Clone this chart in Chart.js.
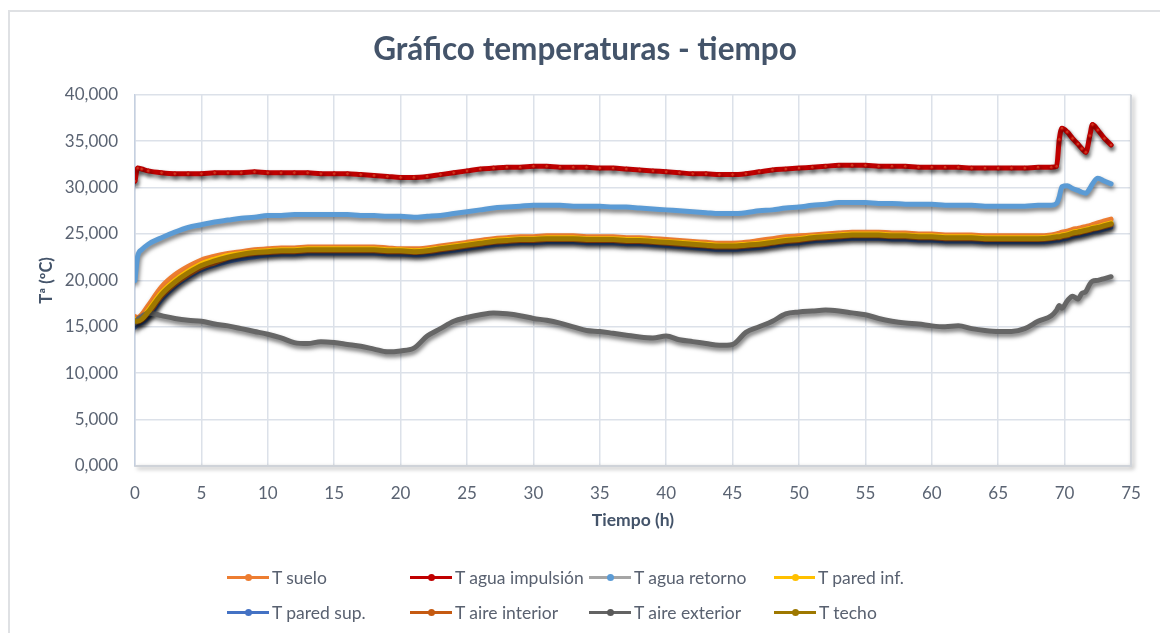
<!DOCTYPE html>
<html>
<head>
<meta charset="utf-8">
<title>Gráfico temperaturas - tiempo</title>
<script src="https://cdn.jsdelivr.net/npm/chart.js@4.4.1/dist/chart.umd.min.js"></script>
<style>
  html, body { margin: 0; padding: 0; background: #fff; }
  #marco { position: absolute; left: 8px; top: 10px; width: 1160px; height: 640px; border-left: 2px solid #dfe1e4; border-top: 2px solid #dfe1e4; }
  #grafico { position: absolute; left: 0; top: 0; }
  #leyenda { position: absolute; left: 227px; top: 560px; display: grid; grid-template-columns: 183px 179px 185px 130px; grid-auto-rows: 35px; font: 17.5px Lato, "Open Sans", sans-serif; color: #596170; }
  .item { display: flex; align-items: center; white-space: nowrap; }
  .marca { position: relative; width: 42px; height: 2.5px; margin-right: 3px; }
  .marca span { position: absolute; left: 17.5px; top: -2.5px; width: 7px; height: 7px; border-radius: 50%; }
</style>
</head>
<body>
<div id="marco"></div>
<canvas id="grafico" width="1160" height="633"></canvas>
<div id="leyenda"></div>
<script>
// tiempo (h) de cada lectura
const horas = [0, 0.2, 0.5,
  1, 2, 3, 4, 5, 6, 7, 8, 9, 10,
  11, 12, 13, 14, 15, 16, 17, 18, 19, 20,
  21, 22, 23, 24, 25, 26, 27, 28, 29, 30,
  31, 32, 33, 34, 35, 36, 37, 38, 39, 40,
  41, 42, 43, 44, 45, 46, 47, 48, 49, 50,
  51, 52, 53, 54, 55, 56, 57, 58, 59, 60,
  61, 62, 63, 64, 65, 66, 67, 68, 69,
  69.4, 69.6, 69.8, 70.2, 70.6, 71, 71.3, 71.6, 71.9, 72.1, 72.5, 73, 73.5];

const tSuelo = [16.1, 16.0, 16.3,
  17.3, 19.3, 20.6, 21.5, 22.2, 22.6, 22.9, 23.1, 23.3, 23.4,
  23.5, 23.5, 23.6, 23.6, 23.6, 23.6, 23.6, 23.6, 23.5, 23.4,
  23.4, 23.5, 23.7, 23.9, 24.1, 24.3, 24.5, 24.6, 24.7, 24.7,
  24.8, 24.8, 24.8, 24.7, 24.7, 24.7, 24.6, 24.6, 24.5, 24.4,
  24.3, 24.2, 24.1, 24.0, 24.0, 24.1, 24.3, 24.5, 24.7, 24.8,
  24.9, 25.0, 25.1, 25.2, 25.2, 25.2, 25.1, 25.1, 25.0, 25.0,
  24.9, 24.9, 24.9, 24.8, 24.8, 24.8, 24.8, 24.8, 24.9,
  25.0, 25.1, 25.2, 25.3, 25.5, 25.6, 25.7, 25.8, 25.9, 26.0, 26.2, 26.4, 26.6];

const tAguaImpulsion = [30.7, 32.1, 32.0,
  31.8, 31.6, 31.5, 31.5, 31.5, 31.6, 31.6, 31.6, 31.7, 31.6,
  31.6, 31.6, 31.6, 31.5, 31.5, 31.5, 31.4, 31.3, 31.2, 31.1,
  31.1, 31.2, 31.4, 31.6, 31.8, 32.0, 32.1, 32.2, 32.2, 32.3,
  32.3, 32.2, 32.2, 32.2, 32.1, 32.1, 32.0, 31.9, 31.8, 31.7,
  31.6, 31.5, 31.5, 31.4, 31.4, 31.5, 31.7, 31.9, 32.0, 32.1,
  32.2, 32.3, 32.4, 32.4, 32.4, 32.3, 32.3, 32.3, 32.2, 32.2,
  32.2, 32.2, 32.1, 32.1, 32.1, 32.1, 32.1, 32.2, 32.2,
  32.3, 35.2, 36.4, 36.0, 35.3, 34.7, 34.2, 33.8, 35.6, 36.8, 36.2, 35.3, 34.6];

const tAguaRetorno = [20.0, 22.6, 23.3,
  23.9, 24.6, 25.2, 25.7, 26.0, 26.3, 26.5, 26.7, 26.8, 27.0,
  27.0, 27.1, 27.1, 27.1, 27.1, 27.1, 27.0, 27.0, 26.9, 26.9,
  26.8, 26.9, 27.0, 27.2, 27.4, 27.6, 27.8, 27.9, 28.0, 28.1,
  28.1, 28.1, 28.0, 28.0, 28.0, 27.9, 27.9, 27.8, 27.7, 27.6,
  27.5, 27.4, 27.3, 27.2, 27.2, 27.3, 27.5, 27.6, 27.8, 27.9,
  28.1, 28.2, 28.4, 28.4, 28.4, 28.3, 28.3, 28.2, 28.2, 28.2,
  28.1, 28.1, 28.1, 28.0, 28.0, 28.0, 28.0, 28.1, 28.1,
  28.3, 29.0, 30.1, 30.2, 29.9, 29.7, 29.5, 29.4, 29.9, 30.4, 31.0, 30.7, 30.4];

const tParedInf = [15.8, 15.7, 15.9,
  16.8, 18.7, 20.0, 21.0, 21.8, 22.3, 22.7, 22.9, 23.1, 23.2,
  23.3, 23.3, 23.4, 23.4, 23.4, 23.4, 23.4, 23.4, 23.3, 23.3,
  23.2, 23.3, 23.5, 23.7, 23.9, 24.1, 24.3, 24.4, 24.5, 24.5,
  24.6, 24.6, 24.6, 24.5, 24.5, 24.5, 24.4, 24.4, 24.3, 24.2,
  24.1, 24.0, 23.9, 23.8, 23.8, 23.9, 24.0, 24.2, 24.4, 24.5,
  24.7, 24.8, 24.9, 25.0, 25.0, 25.0, 24.9, 24.9, 24.8, 24.8,
  24.7, 24.7, 24.7, 24.6, 24.6, 24.6, 24.6, 24.6, 24.7,
  24.8, 24.8, 24.9, 25.0, 25.2, 25.3, 25.4, 25.5, 25.6, 25.7, 25.8, 26.0, 26.2];

const tParedSup = [14.9, 15.2, 15.4,
  16.0, 17.9, 19.3, 20.3, 21.1, 21.6, 22.0, 22.3, 22.5, 22.7,
  22.8, 22.8, 22.9, 22.9, 22.9, 22.9, 22.9, 22.9, 22.8, 22.8,
  22.7, 22.8, 23.0, 23.2, 23.4, 23.6, 23.8, 23.9, 24.0, 24.0,
  24.1, 24.1, 24.1, 24.0, 24.0, 24.0, 23.9, 23.9, 23.8, 23.7,
  23.6, 23.5, 23.4, 23.3, 23.3, 23.4, 23.5, 23.7, 23.9, 24.0,
  24.2, 24.3, 24.4, 24.5, 24.5, 24.5, 24.4, 24.4, 24.3, 24.3,
  24.2, 24.2, 24.2, 24.1, 24.1, 24.1, 24.1, 24.1, 24.2,
  24.3, 24.3, 24.4, 24.5, 24.7, 24.8, 24.9, 25.0, 25.1, 25.2, 25.3, 25.5, 25.7];

const tAireInterior = [15.5, 15.5, 15.7,
  16.4, 18.3, 19.6, 20.6, 21.4, 21.9, 22.4, 22.7, 22.9, 23.0,
  23.1, 23.1, 23.2, 23.2, 23.2, 23.2, 23.2, 23.2, 23.1, 23.1,
  23.0, 23.1, 23.3, 23.5, 23.7, 23.9, 24.1, 24.2, 24.3, 24.3,
  24.4, 24.4, 24.4, 24.3, 24.3, 24.3, 24.2, 24.2, 24.1, 24.0,
  23.9, 23.8, 23.7, 23.6, 23.6, 23.7, 23.8, 24.0, 24.2, 24.3,
  24.5, 24.6, 24.7, 24.8, 24.8, 24.8, 24.7, 24.7, 24.6, 24.6,
  24.5, 24.5, 24.5, 24.4, 24.4, 24.4, 24.4, 24.4, 24.5,
  24.6, 24.6, 24.7, 24.8, 25.0, 25.1, 25.2, 25.3, 25.4, 25.5, 25.6, 25.8, 26.0];

const tAireExterior = [15.4, 15.8, 16.1,
  16.5, 16.2, 15.9, 15.7, 15.6, 15.3, 15.1, 14.8, 14.5, 14.2,
  13.8, 13.3, 13.2, 13.4, 13.3, 13.1, 12.9, 12.6, 12.3, 12.4,
  12.7, 14.0, 14.8, 15.6, 16.0, 16.3, 16.5, 16.4, 16.2, 15.9,
  15.7, 15.4, 15.0, 14.6, 14.5, 14.3, 14.1, 13.9, 13.8, 14.0,
  13.6, 13.4, 13.2, 13.0, 13.1, 14.4, 15.0, 15.6, 16.4, 16.6,
  16.7, 16.8, 16.7, 16.5, 16.3, 15.9, 15.6, 15.4, 15.3, 15.1,
  15.0, 15.1, 14.8, 14.6, 14.5, 14.5, 14.8, 15.6, 16.2,
  16.8, 17.3, 17.0, 17.8, 18.3, 18.0, 18.6, 18.8, 19.6, 19.9, 20.0, 20.2, 20.4];

const tTecho = [15.6, 15.6, 15.8,
  16.6, 18.5, 19.8, 20.8, 21.6, 22.1, 22.5, 22.8, 23.0, 23.1,
  23.2, 23.2, 23.3, 23.3, 23.3, 23.3, 23.3, 23.3, 23.2, 23.2,
  23.1, 23.2, 23.4, 23.6, 23.8, 24.0, 24.2, 24.3, 24.4, 24.4,
  24.5, 24.5, 24.5, 24.4, 24.4, 24.4, 24.3, 24.3, 24.2, 24.1,
  24.0, 23.9, 23.8, 23.7, 23.7, 23.8, 23.9, 24.1, 24.3, 24.4,
  24.6, 24.7, 24.8, 24.9, 24.9, 24.9, 24.8, 24.8, 24.7, 24.7,
  24.6, 24.6, 24.6, 24.5, 24.5, 24.5, 24.5, 24.5, 24.6,
  24.7, 24.7, 24.8, 24.9, 25.1, 25.2, 25.3, 25.4, 25.5, 25.6, 25.7, 25.9, 26.1];

const nombres = ['T suelo', 'T agua impulsión', 'T agua retorno', 'T pared inf.',
                 'T pared sup.', 'T aire interior', 'T aire exterior', 'T techo'];
const valores = [tSuelo, tAguaImpulsion, tAguaRetorno, tParedInf,
                 tParedSup, tAireInterior, tAireExterior, tTecho];
const yTicks = [0, 5, 10, 15, 20, 25, 30, 35, 40];
const xTicks = [0, 5, 10, 15, 20, 25, 30, 35, 40, 45, 50, 55, 60, 65, 70, 75];

// colores: trazo en el grafico, linea y punto en la leyenda
const colorSerie = ['#ED7D31', '#C00000', '#5B9BD5', '#FFC000', '#4472C4', '#C55A11', '#666666', '#9E7800'];
const colorLinea = ['#ED7D31', '#C00000', '#A5A5A5', '#FFC000', '#4472C4', '#C55A11', '#636363', '#9E7800'];
const colorPunto = ['#ED7D31', '#C00000', '#5B9BD5', '#FFC000', '#4472C4', '#C55A11', '#595959', '#9E7800'];

const fuente = 'Lato, "Open Sans", sans-serif';
Chart.defaults.font.family = fuente;

// sombra tipo Excel bajo cada serie
const sombraSeries = {
  id: 'sombraSeries',
  beforeDatasetDraw(chart) {
    const ctx = chart.ctx;
    ctx.save();
    ctx.shadowColor = 'rgba(0,0,0,0.55)';
    ctx.shadowBlur = 4;
    ctx.shadowOffsetX = 1;
    ctx.shadowOffsetY = 3;
  },
  afterDatasetDraw(chart) {
    chart.ctx.restore();
  }
};

// borde derecho e inferior del area de trazado con sombra
const bordeArea = {
  id: 'bordeArea',
  afterLayout(chart) {
    // el titulo de Excel va centrado en todo el ancho del grafico
    if (chart.titleBlock) chart.titleBlock.right = chart.width;
  },
  beforeDatasetsDraw(chart) {
    const {ctx, chartArea: a} = chart;
    ctx.save();
    ctx.shadowColor = 'rgba(0,0,0,0.35)';
    ctx.shadowBlur = 4;
    ctx.shadowOffsetX = 2;
    ctx.shadowOffsetY = 2;
    ctx.strokeStyle = '#cfd3d9';
    ctx.lineWidth = 2;
    ctx.beginPath();
    ctx.moveTo(a.left, a.bottom);
    ctx.lineTo(a.right, a.bottom);
    ctx.lineTo(a.right, a.top);
    ctx.stroke();
    ctx.restore();
  }
};

const datasets = valores.map((serie, i) => ({
  label: nombres[i],
  data: horas.map((h, k) => ({x: h, y: serie[k]})),
  borderColor: colorSerie[i],
  backgroundColor: colorSerie[i],
  borderWidth: i === 4 ? 4 : 5,
  pointRadius: i === 1 ? 1.8 : 0,
  pointBackgroundColor: '#D63A22',
  pointBorderColor: colorSerie[i],
  pointBorderWidth: 1,
  cubicInterpolationMode: 'monotone',
  borderJoinStyle: 'round',
  borderCapStyle: 'round',
  order: valores.length - 1 - i
}));

new Chart(document.getElementById('grafico'), {
  type: 'line',
  data: { datasets: datasets },
  plugins: [sombraSeries, bordeArea],
  options: {
    responsive: false,
    animation: false,
    devicePixelRatio: 1,
    layout: { padding: { left: 10, right: 29, top: 0, bottom: 97 } },
    plugins: {
      legend: { display: false },
      tooltip: { enabled: false },
      title: {
        display: true,
        text: 'Gráfico temperaturas - tiempo',
        color: '#44546A',
        font: { size: 31.5, weight: 'bold', family: fuente },
        padding: { top: 31, bottom: 26 }
      }
    },
    scales: {
      x: {
        type: 'linear',
        min: 0,
        max: 75,
        afterFit: (s) => { s.height = 70; },
        afterBuildTicks: (s) => { s.ticks = xTicks.map(v => ({value: v})); },
        ticks: { color: '#5A6372', font: { size: 17 }, padding: 17, maxRotation: 0 },
        grid: { color: '#DCE1E9', lineWidth: 1.5, drawTicks: false },
        border: { color: '#C9CED6', width: 1.5 },
        title: {
          display: true,
          text: 'Tiempo (h)',
          color: '#44546A',
          font: { size: 17.5, weight: 'bold' },
          padding: { top: 0, bottom: 5 }
        }
      },
      y: {
        min: 0,
        max: 40,
        afterFit: (s) => { s.width = 125; },
        afterBuildTicks: (s) => { s.ticks = yTicks.map(v => ({value: v})); },
        ticks: {
          color: '#5A6372',
          font: { size: 17 },
          padding: 17,
          callback: (v) => v.toFixed(3).replace('.', ',')
        },
        grid: { color: '#DCE1E9', lineWidth: 1.5, drawTicks: false },
        border: { color: '#C5D0E0', width: 1.5 },
        title: {
          display: true,
          text: 'Tª (ºC)',
          color: '#44546A',
          font: { size: 16.5, weight: 'bold' },
          padding: { top: 27, bottom: 0 }
        }
      }
    }
  }
});

// leyenda en dos filas de cuatro columnas, como en Excel
const leyenda = document.getElementById('leyenda');
nombres.forEach((n, i) => {
  const item = document.createElement('div');
  item.className = 'item';
  const marca = document.createElement('div');
  marca.className = 'marca';
  marca.style.background = colorLinea[i];
  const punto = document.createElement('span');
  punto.style.background = colorPunto[i];
  marca.appendChild(punto);
  item.appendChild(marca);
  item.appendChild(document.createTextNode(n));
  leyenda.appendChild(item);
});
</script>
</body>
</html>
